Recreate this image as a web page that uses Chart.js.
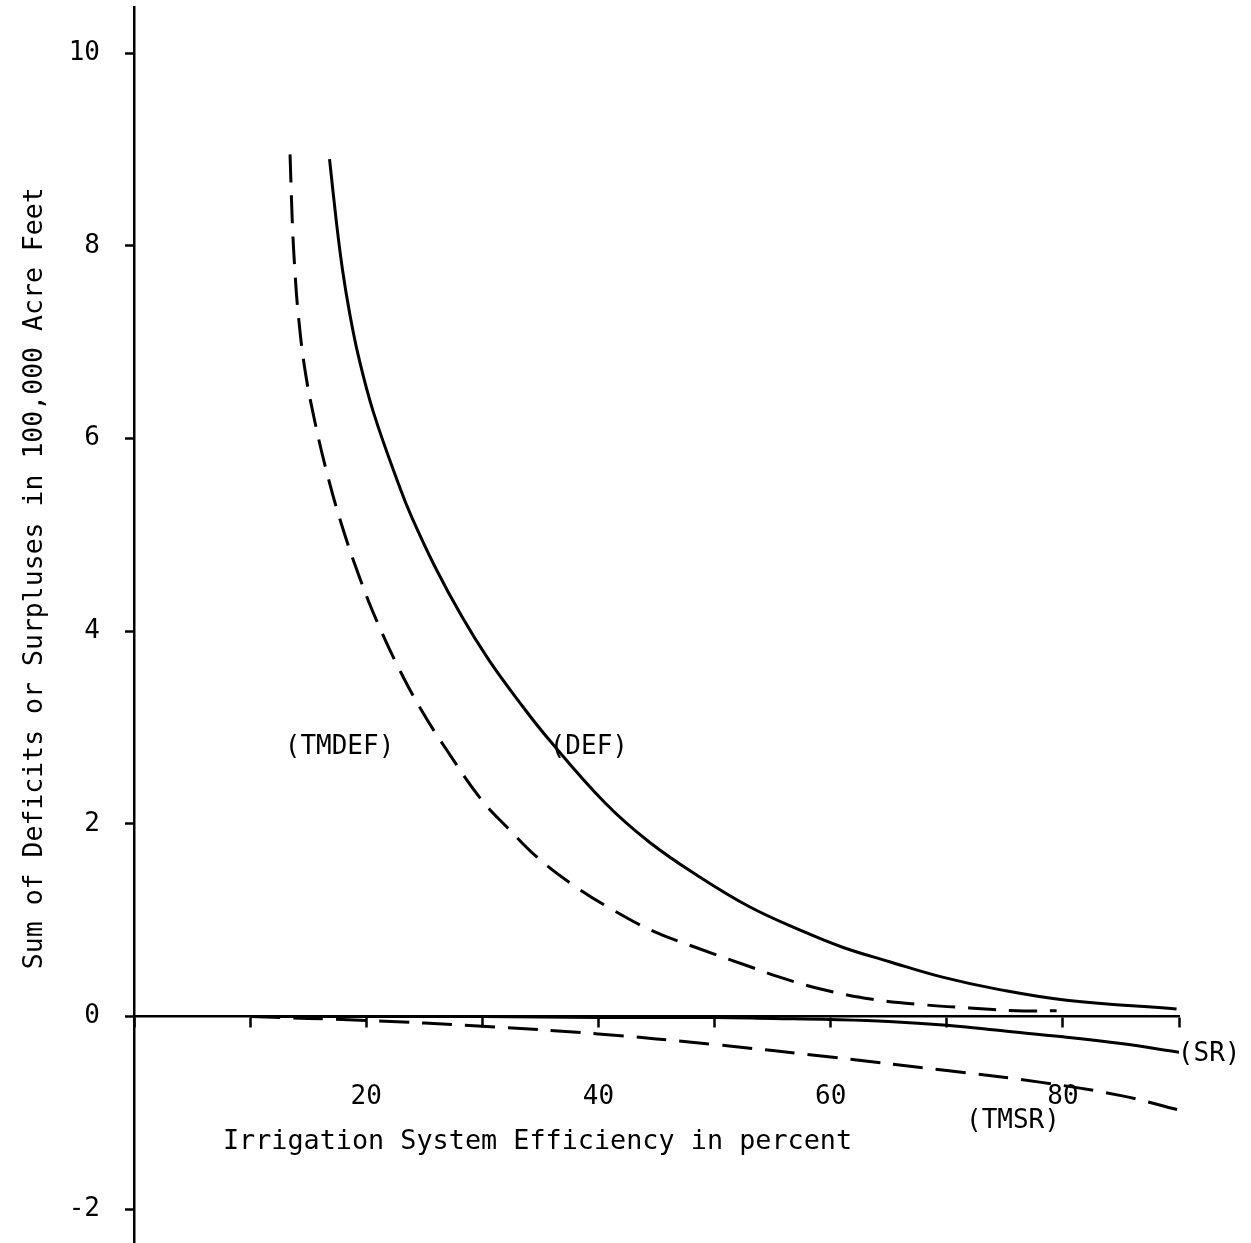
<!DOCTYPE html>
<html lang="en">
<head>
    <meta charset="UTF-8">
    <title>Irrigation System Efficiency</title>
    <script src="https://cdn.jsdelivr.net/npm/chart.js"></script>
    <style>
        html, body { margin: 0; padding: 0; background: #fff; overflow: hidden; }
        .chart-box { position: relative; width: 1251px; height: 1243px; }
    </style>
</head>
<body>
    <div class="chart-box">
        <canvas id="grafik"></canvas>
    </div>

    <script>
        // DEF: sum of deficits (solid)
        const defEff = [16.84, 17.44, 17.96, 18.56, 19.34, 20.63, 22.87, 23.90, 25.92, 28.25, 30.57, 33.16, 35.57, 40.56, 44.40, 48.71, 53.01, 57.32, 61.02, 65.07, 69.63, 74.54, 80.31, 89.79];
        const defVal = [8.90, 8.24, 7.75, 7.31, 6.85, 6.27, 5.50, 5.19, 4.67, 4.15, 3.70, 3.27, 2.90, 2.22, 1.81, 1.45, 1.14, 0.90, 0.72, 0.57, 0.41, 0.28, 0.17, 0.08];

        // TMDEF: deficits (dashed)
        const tmdefEff = [13.44, 13.65, 13.87, 14.13, 14.69, 15.55, 16.67, 17.95, 19.42, 20.97, 22.87, 24.76, 26.92, 29.93, 32.34, 34.67, 37.77, 41.21, 44.66, 48.10, 53.01, 55.34, 59.04, 63.60, 68.26, 71.96, 76.01, 79.46];
        const tmdefVal = [8.95, 8.20, 7.72, 7.31, 6.74, 6.19, 5.62, 5.08, 4.56, 4.09, 3.60, 3.18, 2.77, 2.25, 1.94, 1.66, 1.37, 1.11, 0.89, 0.73, 0.52, 0.42, 0.29, 0.18, 0.12, 0.09, 0.06, 0.06];

        // SR: surpluses (solid, below zero)
        const srEff = [10, 20, 30, 40, 50, 55, 60, 65, 70, 75, 80, 85, 90];
        const srVal = [0.0, 0.0, 0.0, -0.01, -0.01, -0.02, -0.03, -0.05, -0.09, -0.15, -0.21, -0.28, -0.37];

        // TMSR: surpluses (dashed)
        const tmsrEff = [10, 20, 30, 40, 50, 60, 70, 78, 85, 90];
        const tmsrVal = [0.0, -0.04, -0.10, -0.18, -0.29, -0.42, -0.56, -0.68, -0.82, -0.97];

        // labelled ticks on the efficiency axis
        const xTickLabels = [20, 40, 60, 80];

        const FONT = "'DejaVu Sans Mono', monospace";
        const toPoints = (xs, ys) => xs.map((x, i) => ({ x: x, y: ys[i] }));

        // curve names and axis title, placed in data units
        const notes = [
            { text: '(TMDEF)', x: 17.7, y: 2.80, align: 'center', size: 26 },
            { text: '(DEF)', x: 35.8, y: 2.80, align: 'left', size: 26 },
            { text: '(SR)', x: 89.9, y: -0.39, align: 'left', size: 26 },
            { text: '(TMSR)', x: 75.7, y: -1.09, align: 'center', size: 26 },
            { text: 'Irrigation System Efficiency in percent', x: 34.75, y: -1.30, align: 'center', size: 26.8 }
        ];

        const textPlugin = {
            id: 'textPlugin',
            afterDraw(chart) {
                const ctx = chart.ctx;
                const xs = chart.scales.x, ys = chart.scales.y;
                ctx.save();
                ctx.fillStyle = '#000';
                ctx.textBaseline = 'middle';
                notes.forEach(n => {
                    ctx.font = n.size + 'px ' + FONT;
                    ctx.textAlign = n.align;
                    ctx.fillText(n.text, xs.getPixelForValue(n.x), ys.getPixelForValue(n.y));
                });
                // y-axis title
                ctx.translate(35, ys.getPixelForValue(4.55));
                ctx.rotate(-Math.PI / 2);
                ctx.textAlign = 'center';
                ctx.font = '26.5px ' + FONT;
                ctx.fillText('Sum of Deficits or Surpluses in 100,000 Acre Feet', 0, 0);
                ctx.restore();
            }
        };

        const lineStyle = {
            borderColor: '#000',
            borderWidth: 3,
            pointRadius: 0,
            tension: 0.4
        };

        const ctx = document.getElementById('grafik').getContext('2d');
        new Chart(ctx, {
            type: 'line',
            data: {
                datasets: [
                    { ...lineStyle, label: 'DEF', data: toPoints(defEff, defVal) },
                    { ...lineStyle, label: 'TMDEF', data: toPoints(tmdefEff, tmdefVal), borderDash: [28, 13] },
                    { ...lineStyle, label: 'SR', data: toPoints(srEff, srVal) },
                    { ...lineStyle, label: 'TMSR', data: toPoints(tmsrEff, tmsrVal), borderDash: [30, 13] }
                ]
            },
            options: {
                responsive: true,
                maintainAspectRatio: false,
                animation: false,
                layout: { padding: { top: 7, right: 72, bottom: 0, left: 0 } },
                plugins: {
                    legend: { display: false },
                    tooltip: { enabled: false }
                },
                scales: {
                    x: {
                        type: 'linear',
                        position: { y: 0 },
                        min: 0,
                        max: 90,
                        afterFit: scale => {
                            scale.height = 0;
                            scale.paddingLeft = 0;
                            scale.paddingRight = 0;
                        },
                        border: { display: true, color: '#000', width: 2.5 },
                        grid: { drawOnChartArea: false, drawTicks: true, tickLength: 10, tickColor: '#000', tickWidth: 2.5 },
                        ticks: {
                            stepSize: 10,
                            autoSkip: false,
                            maxRotation: 0,
                            padding: 55,
                            color: '#000',
                            font: { family: FONT, size: 26 },
                            callback: v => xTickLabels.includes(v) ? String(v) : ''
                        }
                    },
                    y: {
                        type: 'linear',
                        position: 'left',
                        min: -2.35,
                        max: 10.48,
                        afterFit: scale => {
                            scale.width = 134;
                            scale.paddingTop = 0;
                            scale.paddingBottom = 0;
                        },
                        border: { display: true, color: '#000', width: 2.5 },
                        grid: { drawOnChartArea: false, drawTicks: true, tickLength: 9, tickColor: '#000', tickWidth: 2.5 },
                        ticks: {
                            stepSize: 2,
                            includeBounds: false,
                            padding: 25,
                            color: '#000',
                            font: { family: FONT, size: 26 }
                        }
                    }
                }
            },
            plugins: [textPlugin]
        });
    </script>
</body>
</html>
